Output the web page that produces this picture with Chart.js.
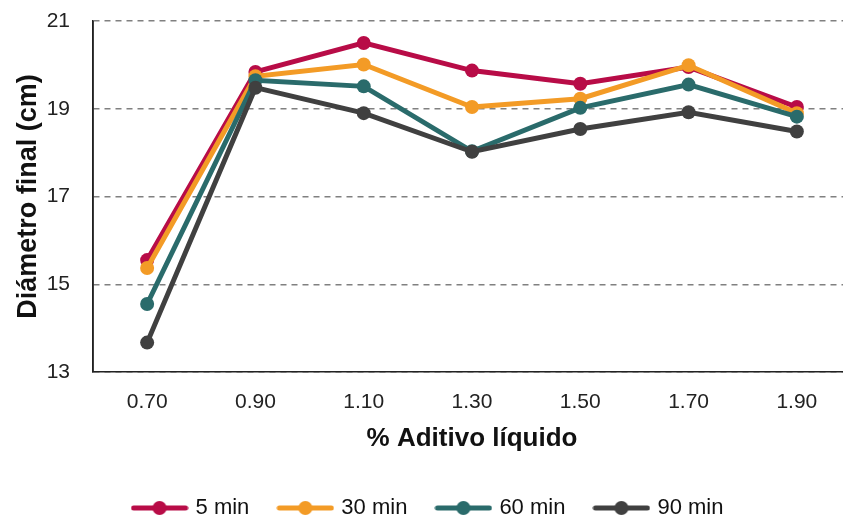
<!DOCTYPE html>
<html><head><meta charset="utf-8">
<script src="https://cdn.jsdelivr.net/npm/chart.js@4.4.1/dist/chart.umd.min.js"></script>
<style>
html,body{margin:0;padding:0;background:#fff;overflow:hidden;width:843px;height:517px;}
#wrap{width:858px;height:529px;position:relative;}
</style></head>
<body><div id="wrap"><canvas id="c"></canvas></div>
<script>
const categories = ["0.70","0.90","1.10","1.30","1.50","1.70","1.90"];
const seriesNames = ["5 min","30 min","60 min","90 min"];
const min5  = [15.55,19.84,20.50,19.87,19.57,19.95,19.04];
const min30 = [15.37,19.74,20.01,19.04,19.23,19.99,18.90];
const min60 = [14.55,19.65,19.51,18.03,19.02,19.55,18.82];
const min90 = [13.67,19.48,18.90,18.02,18.54,18.92,18.48];
const yTicks = [13,15,17,19,21];
const colors = ["#B80C47","#F39B26","#2A6B6B","#404040"];
const values = [min5,min30,min60,min90];

function legendIcon(color){
  const c=document.createElement('canvas');
  c.width=58;c.height=16;
  const g=c.getContext('2d');
  g.strokeStyle=color;g.lineWidth=5;g.lineCap='round';
  g.beginPath();g.moveTo(3,8);g.lineTo(55,8);g.stroke();
  g.fillStyle=color;g.beginPath();g.arc(29,8,7,0,Math.PI*2);g.fill();
  return c;
}
const icons = colors.map(legendIcon);

Chart.defaults.font.family = "'Liberation Sans', Arial, sans-serif";
Chart.defaults.color = "#222";

new Chart(document.getElementById('c'),{
  type:'line',
  data:{
    labels:categories,
    datasets:values.map((v,i)=>({
      label:seriesNames[i],
      data:v,
      borderColor:colors[i],
      backgroundColor:colors[i],
      borderWidth:5,
      pointRadius:7,
      pointHoverRadius:7,
      pointBorderWidth:0,
      pointStyle:'circle',
      tension:0,
      order:4-i
    }))
  },
  options:{
    responsive:true,
    maintainAspectRatio:false,
    animation:false,
    layout:{padding:{top:21,left:0,right:0,bottom:0}},
    plugins:{
      tooltip:{enabled:false},
      legend:{
        position:'bottom',
        labels:{
          usePointStyle:true,
          pointStyleWidth:50,
          boxHeight:16,
          padding:31,
          font:{size:22},
          color:'#111',
          sort:(a,b)=>a.datasetIndex-b.datasetIndex,
          generateLabels:(chart)=>{
            const items=Chart.defaults.plugins.legend.labels.generateLabels(chart);
            items.forEach(it=>{it.pointStyle=icons[it.datasetIndex];});
            return items;
          }
        }
      }
    },
    scales:{
      x:{
        offset:true,
        afterFit:(s)=>{s.height=94;s.paddingLeft=0;s.paddingRight=0;},
        grid:{display:false,drawTicks:false},
        border:{display:true,color:'#222',width:1.5},
        ticks:{padding:18,font:{size:21},color:'#222',maxRotation:0},
        title:{display:true,text:'% Aditivo líquido',font:{size:26,weight:'bold'},color:'#111',padding:{top:6,bottom:12}}
      },
      y:{
        min:13,max:21,
        afterFit:(s)=>{s.width=93;s.paddingTop=0;s.paddingBottom=0;},
        afterBuildTicks:(s)=>{s.ticks=yTicks.map(v=>({value:v}));},
        grid:{color:'#808080',lineWidth:1.5,drawTicks:false},
        border:{display:true,color:'#222',width:1.5,dash:[6,5]},
        ticks:{padding:23,font:{size:21},color:'#222'},
        title:{display:true,text:'Diámetro final (cm)',font:{size:27,weight:'bold'},color:'#111',padding:{top:12,bottom:3}}
      }
    }
  },
  plugins:[{
    id:'solidYAxis',
    afterDraw(chart){
      const a=chart.chartArea,g=chart.ctx;
      g.save();g.strokeStyle='#222';g.lineWidth=1.5;
      g.beginPath();g.moveTo(a.left,a.top);g.lineTo(a.left,a.bottom);g.stroke();
      g.restore();
    }
  }]
});
</script></body></html>
